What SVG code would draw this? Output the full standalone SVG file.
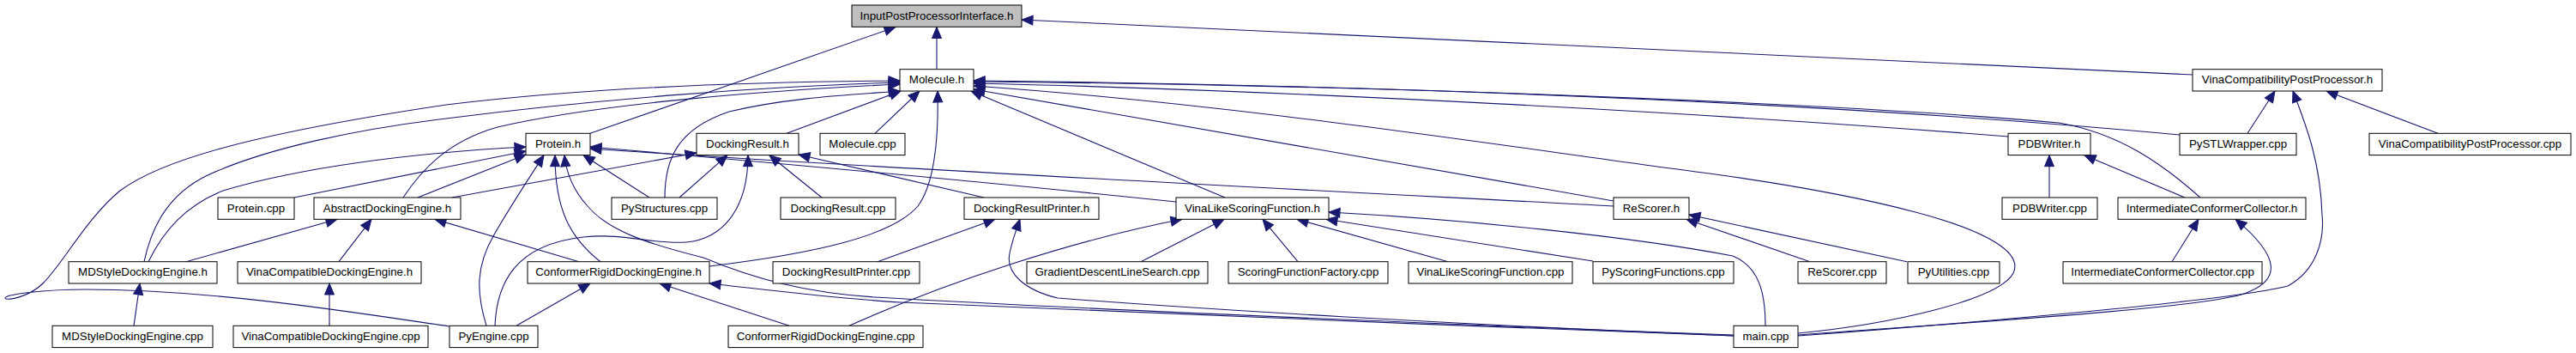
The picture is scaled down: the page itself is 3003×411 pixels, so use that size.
<svg xmlns="http://www.w3.org/2000/svg" width="3003" height="411" viewBox="0 0 3003 411">
<style>
.n rect{fill:#fff;stroke:#000;stroke-width:1}
.n.root rect{fill:#bfbfbf}
.n text{font-family:"Liberation Sans",Arial,Helvetica,sans-serif;font-size:13.3px;text-anchor:middle;fill:#000}
.e path{fill:none;stroke:#191970;stroke-width:1.1;marker-end:url(#ah)}
</style>
<defs>
<marker id="ah" markerUnits="userSpaceOnUse" markerWidth="13" markerHeight="11" viewBox="0 0 13 11" refX="13" refY="5.5" orient="auto" overflow="visible">
<path d="M0,0 L13,5.5 L0,11 Z" fill="#191970" stroke="#191970" stroke-width="1"/>
</marker>
</defs>
<rect width="3003" height="411" fill="#fff"/>
<g id="edges" class="e">
<path d="M1092,80.7 L1092,31.5"/>
<path d="M688,155.3 L1044,31.5"/>
<path d="M2556,87 L1191,23"/>
<path d="M524,380 C420,365 250,337 100,337 C50,337 5,343 6,347 C8,351 35,345 50,330 C75,305 100,255 140,222 C190,185 300,155 520,122 C700,100 900,95 1049,94"/>
<path d="M168,304.7 C178,258 200,225 240,205 C310,172 420,150 520,138 C700,115 900,100 1049,96"/>
<path d="M173,304.7 C190,270 215,240 260,222 C350,195 480,178 613,171"/>
<path d="M217,304.7 L393,255.3"/>
<path d="M156,379.3 L163,330"/>
<path d="M395,304.7 L433,255.3"/>
<path d="M384,379.3 L384,330"/>
<path d="M343,230 L613,176"/>
<path d="M487,230 L613,180"/>
<path d="M470,230 C490,200 520,165 580,148 C700,120 900,105 1049,98"/>
<path d="M527,230 L812,178"/>
<path d="M675,304.7 L507,255.3"/>
<path d="M700,304.7 C665,277 647,245 647,180.7"/>
<path d="M827,310 C950,295 1040,275 1070,240 C1092,210 1094,150 1093,106"/>
<path d="M567,379.3 C555,340 555,310 575,275 C595,240 615,210 634,180.7"/>
<path d="M577,379.3 C579,330 600,285 680,276 C730,271 760,285 800,282 C845,278 872,240 872,180.7"/>
<path d="M2021,390 C1700,378 1300,362 1020,346 C940,341 880,325 820,300 C760,285 710,270 685,240 C667,220 660,200 658,180.7"/>
<path d="M2021,391 C1700,380 1200,358 1050,352 C980,348 900,338 827,330"/>
<path d="M2021,391 C1700,378 1400,360 1233,347 C1195,338 1172,318 1177,295 C1180,280 1184,270 1189,255.3"/>
<path d="M2096,388 C2200,378 2330,350 2347,318 C2358,295 2320,270 2233,247 C2150,225 2050,210 2000,203 C1750,170 1450,122 1135,100"/>
<path d="M2058,379.3 C2058,340 2050,310 2020,298 C1900,275 1700,255 1549,247"/>
<path d="M2096,390 C2300,375 2550,360 2613,343 C2660,328 2660,300 2606,255.3"/>
<path d="M2096,391 C2300,376 2600,350 2667,333 C2700,315 2710,280 2707,250 C2705,190 2690,150 2673,106"/>
<path d="M1020,155.3 L1072,106"/>
<path d="M917,155.3 L1050,106"/>
<path d="M775,230 C775,185 790,150 850,130 C920,113 1000,110 1049,106"/>
<path d="M757,230 L680,180.7"/>
<path d="M792,230 L848,180.7"/>
<path d="M958,230 L897,180.7"/>
<path d="M1147,230 L931,180"/>
<path d="M1023,304.7 L1160,255.3"/>
<path d="M1428,230 L1132,106"/>
<path d="M1371,235 C1150,212 850,185 688,171"/>
<path d="M1881,240 C1600,225 1000,195 688,173"/>
<path d="M1881,234 L1135,104"/>
<path d="M920,379.3 L769,330"/>
<path d="M990,379.3 C1100,330 1250,280 1378,255.3"/>
<path d="M602,379.3 L688,330"/>
<path d="M1330,304.7 L1427,255.3"/>
<path d="M1513,304.7 L1472,255.3"/>
<path d="M1688,304.7 L1512,255.3"/>
<path d="M1857,304 L1546,255.3"/>
<path d="M2110,304.7 L1966,255.3"/>
<path d="M2223,304.7 L1969,250"/>
<path d="M2389,230 L2389,180.7"/>
<path d="M2547,230 L2430,180.7"/>
<path d="M2341,159 C2000,132 1500,105 1135,97"/>
<path d="M2541,157 C2200,125 1700,100 1135,94"/>
<path d="M2565,230 C2520,190 2470,155 2400,143 C2200,125 1700,100 1135,95"/>
<path d="M2532,304.7 L2563,255.3"/>
<path d="M2620,155.3 L2652,106"/>
<path d="M2842,155.3 L2712,106"/>
</g>
<g id="node-InputPostProcessorInterface_h" class="n root"><rect x="993" y="6" width="198" height="25.3"/><text x="1092" y="22.7">InputPostProcessorInterface.h</text></g>
<g id="node-Molecule_h" class="n"><rect x="1049" y="80.7" width="86" height="25.3"/><text x="1092" y="97.4">Molecule.h</text></g>
<g id="node-VinaCompatibilityPostProcessor_h" class="n"><rect x="2556" y="80.7" width="221" height="25.3"/><text x="2666.5" y="97.4">VinaCompatibilityPostProcessor.h</text></g>
<g id="node-Protein_h" class="n"><rect x="613" y="155.3" width="75" height="25.3"/><text x="650.5" y="172">Protein.h</text></g>
<g id="node-DockingResult_h" class="n"><rect x="812" y="155.3" width="119" height="25.3"/><text x="871.5" y="172">DockingResult.h</text></g>
<g id="node-Molecule_cpp" class="n"><rect x="956" y="155.3" width="99" height="25.3"/><text x="1005.5" y="172">Molecule.cpp</text></g>
<g id="node-PDBWriter_h" class="n"><rect x="2341" y="155.3" width="96" height="25.3"/><text x="2389" y="172">PDBWriter.h</text></g>
<g id="node-PySTLWrapper_cpp" class="n"><rect x="2541" y="155.3" width="136" height="25.3"/><text x="2609" y="172">PySTLWrapper.cpp</text></g>
<g id="node-VinaCompatibilityPostProcessor_cpp" class="n"><rect x="2762" y="155.3" width="235" height="25.3"/><text x="2879.5" y="172">VinaCompatibilityPostProcessor.cpp</text></g>
<g id="node-Protein_cpp" class="n"><rect x="254" y="230" width="89" height="25.3"/><text x="298.5" y="246.7">Protein.cpp</text></g>
<g id="node-AbstractDockingEngine_h" class="n"><rect x="366" y="230" width="171" height="25.3"/><text x="451.5" y="246.7">AbstractDockingEngine.h</text></g>
<g id="node-PyStructures_cpp" class="n"><rect x="713" y="230" width="123" height="25.3"/><text x="774.5" y="246.7">PyStructures.cpp</text></g>
<g id="node-DockingResult_cpp" class="n"><rect x="910" y="230" width="134" height="25.3"/><text x="977" y="246.7">DockingResult.cpp</text></g>
<g id="node-DockingResultPrinter_h" class="n"><rect x="1124" y="230" width="157" height="25.3"/><text x="1202.5" y="246.7">DockingResultPrinter.h</text></g>
<g id="node-VinaLikeScoringFunction_h" class="n"><rect x="1371" y="230" width="178" height="25.3"/><text x="1460" y="246.7">VinaLikeScoringFunction.h</text></g>
<g id="node-ReScorer_h" class="n"><rect x="1881" y="230" width="88" height="25.3"/><text x="1925" y="246.7">ReScorer.h</text></g>
<g id="node-PDBWriter_cpp" class="n"><rect x="2334" y="230" width="111" height="25.3"/><text x="2389.5" y="246.7">PDBWriter.cpp</text></g>
<g id="node-IntermediateConformerCollector_h" class="n"><rect x="2469" y="230" width="219" height="25.3"/><text x="2578.5" y="246.7">IntermediateConformerCollector.h</text></g>
<g id="node-MDStyleDockingEngine_h" class="n"><rect x="80" y="304.7" width="173" height="25.3"/><text x="166.5" y="321.4">MDStyleDockingEngine.h</text></g>
<g id="node-VinaCompatibleDockingEngine_h" class="n"><rect x="277" y="304.7" width="214" height="25.3"/><text x="384" y="321.4">VinaCompatibleDockingEngine.h</text></g>
<g id="node-ConformerRigidDockingEngine_h" class="n"><rect x="615" y="304.7" width="212" height="25.3"/><text x="721" y="321.4">ConformerRigidDockingEngine.h</text></g>
<g id="node-DockingResultPrinter_cpp" class="n"><rect x="901" y="304.7" width="171" height="25.3"/><text x="986.5" y="321.4">DockingResultPrinter.cpp</text></g>
<g id="node-GradientDescentLineSearch_cpp" class="n"><rect x="1197" y="304.7" width="211" height="25.3"/><text x="1302.5" y="321.4">GradientDescentLineSearch.cpp</text></g>
<g id="node-ScoringFunctionFactory_cpp" class="n"><rect x="1432" y="304.7" width="186" height="25.3"/><text x="1525" y="321.4">ScoringFunctionFactory.cpp</text></g>
<g id="node-VinaLikeScoringFunction_cpp" class="n"><rect x="1642" y="304.7" width="191" height="25.3"/><text x="1737.5" y="321.4">VinaLikeScoringFunction.cpp</text></g>
<g id="node-PyScoringFunctions_cpp" class="n"><rect x="1857" y="304.7" width="164" height="25.3"/><text x="1939" y="321.4">PyScoringFunctions.cpp</text></g>
<g id="node-ReScorer_cpp" class="n"><rect x="2096" y="304.7" width="103" height="25.3"/><text x="2147.5" y="321.4">ReScorer.cpp</text></g>
<g id="node-PyUtilities_cpp" class="n"><rect x="2224" y="304.7" width="107" height="25.3"/><text x="2277.5" y="321.4">PyUtilities.cpp</text></g>
<g id="node-IntermediateConformerCollector_cpp" class="n"><rect x="2405" y="304.7" width="232" height="25.3"/><text x="2521" y="321.4">IntermediateConformerCollector.cpp</text></g>
<g id="node-MDStyleDockingEngine_cpp" class="n"><rect x="61" y="379.3" width="187" height="25.3"/><text x="154.5" y="396">MDStyleDockingEngine.cpp</text></g>
<g id="node-VinaCompatibleDockingEngine_cpp" class="n"><rect x="272" y="379.3" width="227" height="25.3"/><text x="385.5" y="396">VinaCompatibleDockingEngine.cpp</text></g>
<g id="node-PyEngine_cpp" class="n"><rect x="524" y="379.3" width="103" height="25.3"/><text x="575.5" y="396">PyEngine.cpp</text></g>
<g id="node-ConformerRigidDockingEngine_cpp" class="n"><rect x="849" y="379.3" width="227" height="25.3"/><text x="962.5" y="396">ConformerRigidDockingEngine.cpp</text></g>
<g id="node-main_cpp" class="n"><rect x="2021" y="379.3" width="75" height="25.3"/><text x="2058.5" y="396">main.cpp</text></g>
</svg>
